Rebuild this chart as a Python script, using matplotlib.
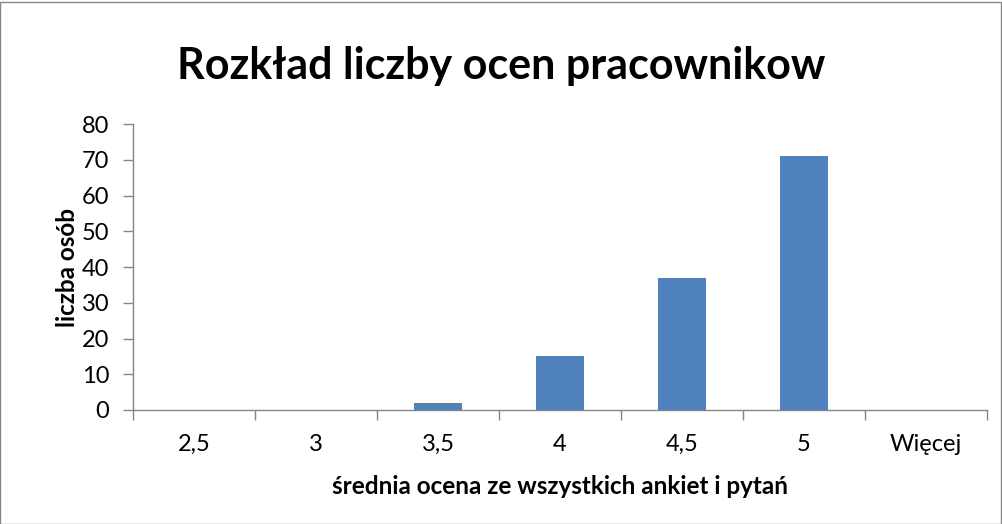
import matplotlib
matplotlib.use("Agg")
import matplotlib.pyplot as plt
from matplotlib.patches import Rectangle

categories = ["2,5", "3", "3,5", "4", "4,5", "5", "Więcej"]
values = [0, 0, 2, 15, 37, 71, 0]
yticks = [0, 10, 20, 30, 40, 50, 60, 70, 80]

plt.rcParams['font.family'] = ['Lato', 'DejaVu Sans']

W, H = 1003, 524
fig = plt.figure(figsize=(W / 100, H / 100), dpi=100)
ax = fig.add_axes([133 / W, 1 - 410 / H, (987 - 133) / W, (410 - 124) / H])

x = list(range(len(categories)))
ax.bar(x, values, width=0.4, color="#4f81bd", zorder=3)
ax.set_xlim(-0.5, len(categories) - 0.5)
ax.set_ylim(0, 80)
ax.set_yticks(yticks)
ax.set_yticklabels([str(t) for t in yticks], fontsize=17)

ax.set_xticks(x)
ax.set_xticklabels(categories, fontsize=17)
ax.tick_params(axis='x', which='major', length=0, pad=17)
ax.set_xticks([i - 0.5 for i in range(len(categories) + 1)], minor=True)
ax.tick_params(axis='x', which='minor', length=7, color="#868686", width=1)
ax.tick_params(axis='y', length=7, color="#868686", width=1, pad=10)

for s in ['top', 'right']:
    ax.spines[s].set_visible(False)
for s in ['left', 'bottom']:
    ax.spines[s].set_color("#868686")
    ax.spines[s].set_linewidth(1)

ax.set_xlabel("średnia ocena ze wszystkich ankiet i pytań", fontsize=17.5,
              fontweight='bold', labelpad=15)
ax.set_ylabel("liczba osób", fontsize=17.5, fontweight='bold', labelpad=2)
fig.text(0.5, 1 - 66 / H, "Rozkład liczby ocen pracownikow", ha='center',
         va='center', fontsize=31, fontweight='bold')

fig.patches.append(Rectangle((0.5 / W, 0.5 / H), (W - 2) / W, (H - 2) / H,
                             transform=fig.transFigure, fill=False,
                             edgecolor="#868686", linewidth=1))

fig.savefig("out.png", dpi=100)
